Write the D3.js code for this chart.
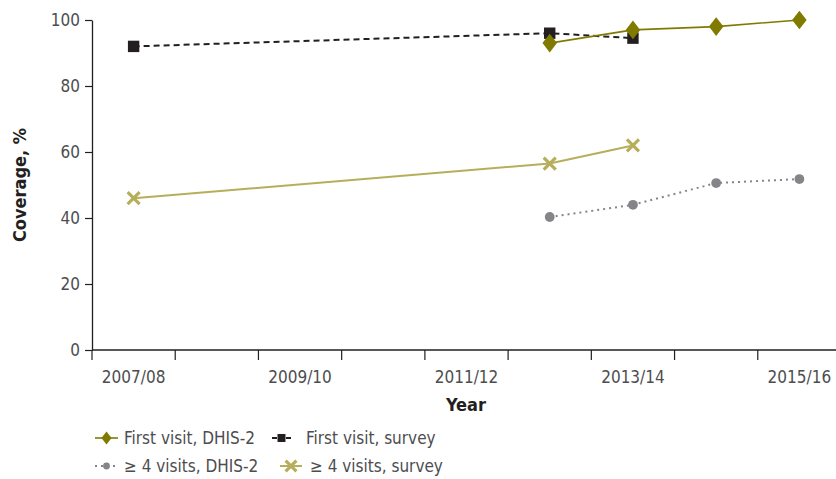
<!DOCTYPE html>
<html>
<head>
<meta charset="utf-8">
<script src="https://cdn.jsdelivr.net/npm/d3@7"></script>
<style>
  body { margin: 0; background: #fff; }
  text { font-family: "DejaVu Sans Condensed", "Liberation Sans Narrow", sans-serif; font-stretch: condensed; }
</style>
</head>
<body>
<div id="chart"></div>
<script>
// years on the x axis (one band per year, label every other one)
var years = ["2007/08", "2008/09", "2009/10", "2010/11", "2011/12", "2012/13", "2013/14", "2014/15", "2015/16"];
var labelledYears = ["2007/08", "2009/10", "2011/12", "2013/14", "2015/16"];
var yTicks = [0, 20, 40, 60, 80, 100];

// series values
var firstVisitDhisYears = ["2012/13", "2013/14", "2014/15", "2015/16"];
var firstVisitDhis = [93, 97, 98, 100];
var firstVisitSurveyYears = ["2007/08", "2012/13", "2013/14"];
var firstVisitSurvey = [92, 96, 94.5];
var fourVisitsDhisYears = ["2012/13", "2013/14", "2014/15", "2015/16"];
var fourVisitsDhis = [40.3, 44, 50.6, 51.8];
var fourVisitsSurveyYears = ["2007/08", "2012/13", "2013/14"];
var fourVisitsSurvey = [46, 56.5, 62];

var width = 836, height = 479;
var svg = d3.select("#chart").append("svg")
    .attr("width", width)
    .attr("height", height);

var x = d3.scaleBand().domain(years).range([92, 841]);
var y = d3.scaleLinear().domain([0, 100]).range([350, 20]);

var axisColour = "#231f20";
var labelColour = "#4d4d4f";

// y axis
var yAxis = svg.append("g")
    .attr("transform", "translate(92,0)")
    .call(d3.axisLeft(y).tickValues(yTicks).tickSize(7).tickPadding(5).tickSizeOuter(0));
yAxis.select(".domain").attr("stroke", axisColour).attr("stroke-width", 1.3);
yAxis.selectAll(".tick line").attr("stroke", axisColour).attr("stroke-width", 1.2);
yAxis.selectAll(".tick text").attr("fill", labelColour).style("font-size", "17px");

// x axis: ticks at band boundaries, labels at band centres
var xAxisG = svg.append("g").attr("transform", "translate(0,350)");
xAxisG.append("line")
    .attr("x1", 92).attr("x2", width)
    .attr("stroke", axisColour).attr("stroke-width", 1.3);
xAxisG.selectAll(".xtick")
    .data(years)
    .enter().append("line")
    .attr("class", "xtick")
    .attr("x1", function(d) { return x(d); })
    .attr("x2", function(d) { return x(d); })
    .attr("y1", 0).attr("y2", 10)
    .attr("stroke", axisColour).attr("stroke-width", 1.2);
xAxisG.selectAll(".xlabel")
    .data(labelledYears)
    .enter().append("text")
    .attr("class", "xlabel")
    .attr("x", function(d) { return x(d) + x.bandwidth() / 2; })
    .attr("y", 33)
    .attr("text-anchor", "middle")
    .attr("fill", labelColour)
    .style("font-size", "17px")
    .text(function(d) { return d; });

// axis titles
svg.append("text")
    .attr("transform", "translate(26,185) rotate(-90)")
    .attr("text-anchor", "middle")
    .attr("fill", axisColour)
    .style("font-size", "18px")
    .style("font-weight", "bold")
    .text("Coverage, %");
svg.append("text")
    .attr("x", 466).attr("y", 411)
    .attr("text-anchor", "middle")
    .attr("fill", axisColour)
    .style("font-size", "18px")
    .style("font-weight", "bold")
    .text("Year");

var cx = function(d) { return x(d.year) + x.bandwidth() / 2; };
var line = d3.line().x(cx).y(function(d) { return y(d.value); });

function pairs(ys, vs) {
    return ys.map(function(yr, i) { return { year: yr, value: vs[i] }; });
}

var series = [
    { name: "First visit, survey", data: pairs(firstVisitSurveyYears, firstVisitSurvey),
      colour: "#231f20", width: 2, dash: "6,4", legendDash: "5,9", symbol: d3.symbolSquare, size: 130 },
    { name: "≥ 4 visits, survey", data: pairs(fourVisitsSurveyYears, fourVisitsSurvey),
      colour: "#b7ae5c", width: 2, dash: null, symbol: "x", size: 0 },
    { name: "≥ 4 visits, DHIS-2", data: pairs(fourVisitsDhisYears, fourVisitsDhis),
      colour: "#858589", width: 2, dash: "2,4", symbol: d3.symbolCircle, size: 75 },
    { name: "First visit, DHIS-2", data: pairs(firstVisitDhisYears, firstVisitDhis),
      colour: "#807a00", width: 1.6, dash: null, symbol: d3.symbolDiamond, size: 100 }
];

function drawMarker(g, s, px, py, scale) {
    if (s.symbol === "x") {
        var h = 6 * scale;
        g.append("path")
            .attr("d", "M" + (px - h) + "," + (py - h) + "L" + (px + h) + "," + (py + h) +
                       "M" + (px + h) + "," + (py - h) + "L" + (px - h) + "," + (py + h))
            .attr("stroke", s.colour).attr("stroke-width", 3.2).attr("fill", "none");
    } else {
        var sym = d3.symbol().type(s.symbol).size(s.size * scale * scale);
        var t = "translate(" + px + "," + py + ")";
        if (s.symbol === d3.symbolDiamond) t += " scale(1.35,1)";
        g.append("path")
            .attr("d", sym())
            .attr("transform", t)
            .attr("fill", s.colour);
    }
}

series.forEach(function(s) {
    var g = svg.append("g");
    g.append("path")
        .datum(s.data)
        .attr("d", line)
        .attr("fill", "none")
        .attr("stroke", s.colour)
        .attr("stroke-width", s.width)
        .attr("stroke-dasharray", s.dash);
    s.data.forEach(function(d) {
        drawMarker(g, s, cx(d), y(d.value), 1);
    });
});

// legend
var legendItems = [
    { s: series[3], x: 95, y: 438, lw: 23, gap: 6 },
    { s: series[0], x: 272, y: 438, lw: 19, gap: 15 },
    { s: series[2], x: 95, y: 466, lw: 23, gap: 6 },
    { s: series[1], x: 280, y: 466, lw: 22, gap: 8 }
];
legendItems.forEach(function(item) {
    var s = item.s;
    var g = svg.append("g");
    g.append("line")
        .attr("x1", item.x).attr("x2", item.x + item.lw)
        .attr("y1", item.y).attr("y2", item.y)
        .attr("stroke", s.colour)
        .attr("stroke-width", s.width)
        .attr("stroke-dasharray", s.legendDash || s.dash);
    drawMarker(g, s, item.x + item.lw / 2, item.y, s.symbol === "x" ? 0.9 : 0.7);
    g.append("text")
        .attr("x", item.x + item.lw + item.gap)
        .attr("y", item.y + 6)
        .attr("fill", labelColour)
        .style("font-size", "17px")
        .text(s.name);
});
</script>
</body>
</html>
